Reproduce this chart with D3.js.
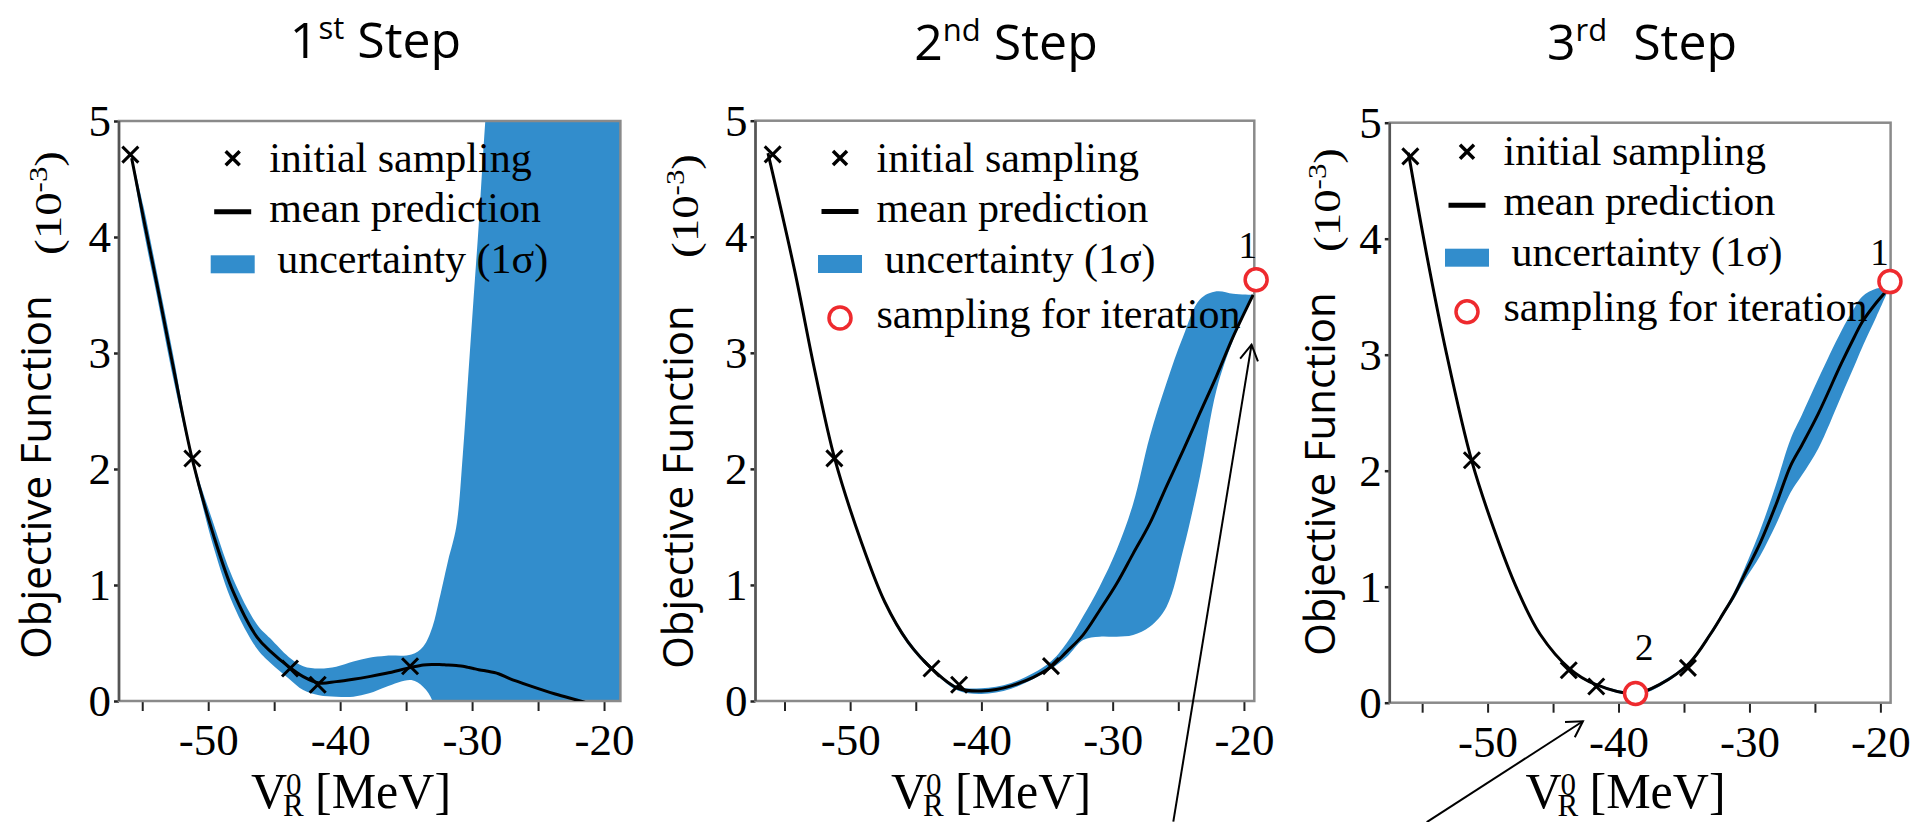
<!DOCTYPE html>
<html>
<head>
<meta charset="utf-8">
<script src="https://cdn.jsdelivr.net/npm/d3@7"></script>
<style>
  html, body { margin: 0; padding: 0; background: #fff; }
  svg { display: block; }
  text { white-space: pre; }
</style>
</head>
<body>
<div class="chart"></div>
<script>
// initial sampling points, same five in every step
const sampleX = [-55.9, -51.2, -43.8, -41.7, -34.7];
const sampleY = [4.71, 2.09, 0.28, 0.14, 0.30];

// 1st step: mean prediction and 1 sigma band
const step1X    = [-55.8, -54.9, -53.9, -52.65, -51.2, -49.6, -48.1, -46.3, -45.3, -43.9, -42.8, -41.6, -40.3, -39.0, -37.8, -36.5, -34.6, -33.7, -33.0, -32.5, -32.1, -31.8, -31.2, -30.7, -30.3, -29.9, -29.5, -29.0, -28.0, -27.2, -25.6, -23.7, -21.8, -18.75];
const step1Mean = [4.68, 4.16, 3.60, 2.88, 2.08, 1.43, 0.94, 0.55, 0.43, 0.296, 0.21, 0.155, 0.167, 0.187, 0.21, 0.239, 0.29, 0.31, 0.315, 0.315, 0.312, 0.31, 0.305, 0.30, 0.29, 0.28, 0.27, 0.26, 0.235, 0.195, 0.13, 0.06, 0.0, -0.1];
const step1Hi   = [4.70, 4.26, 3.70, 2.98, 2.11, 1.53, 1.05, 0.66, 0.54, 0.38, 0.30, 0.28, 0.296, 0.34, 0.373, 0.39, 0.40, 0.47, 0.64, 0.87, 1.07, 1.22, 1.50, 2.13, 2.79, 3.45, 4.10, 5.0, 6.5, 7.5, 9.0, 10, 10, 10];
const step1Lo   = [4.66, 4.06, 3.50, 2.78, 2.05, 1.33, 0.83, 0.45, 0.33, 0.195, 0.095, 0.05, 0.037, 0.037, 0.066, 0.123, 0.18, 0.12, 0.0, -0.3, -0.6, -1, -1, -1, -1, -1, -1, -1, -1, -1, -1, -1, -1, -1];

// 2nd step
const step2X    = [-56.26, -54.23, -52.7, -51.18, -49.15, -47.37, -45.6, -43.6, -41.8, -40.0, -37.73, -34.87, -33.5, -32.25, -31.0, -29.7, -28.44, -27.17, -25.9, -24.63, -23.36, -22.09, -20.82, -19.3];
const step2Mean = [4.72, 3.71, 2.85, 2.09, 1.37, 0.855, 0.51, 0.26, 0.11, 0.086, 0.13, 0.28, 0.425, 0.57, 0.78, 1.01, 1.27, 1.53, 1.85, 2.16, 2.48, 2.80, 3.14, 3.5];
const step2Hi   = [4.73, 3.73, 2.87, 2.10, 1.39, 0.875, 0.53, 0.275, 0.125, 0.11, 0.155, 0.325, 0.50, 0.73, 0.985, 1.30, 1.70, 2.28, 2.74, 3.14, 3.46, 3.53, 3.51, 3.5];
const step2Lo   = [4.71, 3.69, 2.83, 2.08, 1.35, 0.835, 0.49, 0.245, 0.09, 0.06, 0.105, 0.265, 0.38, 0.526, 0.554, 0.554, 0.569, 0.64, 0.81, 1.30, 1.93, 2.68, 3.11, 3.49];

// 3rd step
const step3X    = [-56.05, -54.65, -53.12, -51.2, -49.56, -47.77, -45.99, -43.7, -41.8, -38.7, -36.81, -34.6, -32.99, -32.0, -31.2, -30.4, -29.17, -28.0, -26.87, -26.0, -24.75, -23.0, -22.0, -21.4, -20.3, -19.3];
const step3Mean = [4.74, 3.86, 3.0, 2.08, 1.51, 0.985, 0.59, 0.29, 0.16, 0.08, 0.16, 0.34, 0.59, 0.77, 0.92, 1.10, 1.38, 1.70, 2.04, 2.22, 2.49, 2.92, 3.15, 3.28, 3.45, 3.58];
const step3Hi   = [4.75, 3.87, 3.01, 2.09, 1.52, 0.995, 0.60, 0.30, 0.17, 0.095, 0.175, 0.355, 0.61, 0.79, 0.95, 1.15, 1.49, 1.87, 2.27, 2.48, 2.79, 3.20, 3.40, 3.50, 3.57, 3.58];
const step3Lo   = [4.73, 3.85, 2.99, 2.07, 1.50, 0.975, 0.58, 0.28, 0.15, 0.065, 0.145, 0.325, 0.57, 0.75, 0.89, 1.05, 1.27, 1.53, 1.81, 1.96, 2.19, 2.64, 2.90, 3.06, 3.33, 3.58];

// sampling for iteration (red circles) and their number labels
const iter2X = [-19.07];
const iter2Y = [3.63];
const iter2Name = ["1"];
const iter2LabelX = [-19.7];
const iter2LabelY = [3.82];
const iter3X = [-19.27, -38.7];
const iter3Y = [3.63, 0.08];
const iter3Name = ["1", "2"];
const iter3LabelX = [-20.07, -38.03];
const iter3LabelY = [3.77, 0.37];

// annotation arrows, [x, y] in data units of their panel
const arrow2From = [-25.38, -1.04];
const arrow2To = [-19.42, 3.07];
const arrow3From = [-54.65, -1.03];
const arrow3To = [-42.72, -0.16];

const titles = [["1", "st", " Step"], ["2", "nd", " Step"], ["3", "rd", "  Step"]];
const xTicks = [-55, -50, -45, -40, -35, -30, -25, -20];
const yTicks = [0, 1, 2, 3, 4, 5];
const legendNames = ["initial sampling", "mean prediction", "uncertainty (1\u03c3)", "sampling for iteration"];

const blue = "#328dcc";
const red = "#ee2a2e";
const serif = "'Liberation Serif','Times New Roman',Times,serif";
const sans = "'Open Sans','Noto Sans',sans-serif";

const steps = [
    { xs: step1X, mean: step1Mean, hi: step1Hi, lo: step1Lo, iter: [], arrow: null,
      left: 119, right: 620.4, top: 121, bottom: 701, dom: [-56.76, -18.76],
      titleX: 375.5, titleY: 58, ylabX: 51, ylabY: 477, expX: 61, expY: 203,
      legX: 232.7, legY: 158.3, xlabX: 251 },
    { xs: step2X, mean: step2Mean, hi: step2Hi, lo: step2Lo,
      iter: iter2X.map((v, i) => ({ x: v, y: iter2Y[i], name: iter2Name[i], lx: iter2LabelX[i], ly: iter2LabelY[i] })),
      arrow: [arrow2From, arrow2To],
      left: 755.5, right: 1254.3, top: 120.7, bottom: 701, dom: [-57.21, -19.21],
      titleX: 1006, titleY: 60, ylabX: 693, ylabY: 487, expX: 698, expY: 206,
      legX: 840, legY: 158, xlabX: 891 },
    { xs: step3X, mean: step3Mean, hi: step3Hi, lo: step3Lo,
      iter: iter3X.map((v, i) => ({ x: v, y: iter3Y[i], name: iter3Name[i], lx: iter3LabelX[i], ly: iter3LabelY[i] })),
      arrow: [arrow3From, arrow3To],
      left: 1389.8, right: 1890.6, top: 122.7, bottom: 702.7, dom: [-57.47, -19.22],
      titleX: 1642, titleY: 60, ylabX: 1335, ylabY: 474, expX: 1340, expY: 200,
      legX: 1467, legY: 151.7, xlabX: 1525.5 }
];

const svg = d3.select(".chart")
    .append("svg")
    .attr("width", 1911)
    .attr("height", 822);

const defs = svg.append("defs");
defs.append("marker")
    .attr("id", "head")
    .attr("markerUnits", "userSpaceOnUse")
    .attr("viewBox", "-20 -12 24 24")
    .attr("markerWidth", 24)
    .attr("markerHeight", 24)
    .attr("refX", 0)
    .attr("refY", 0)
    .attr("orient", "auto")
    .append("path")
    .attr("d", "M-15.5,-9L0,0L-15.5,9")
    .attr("fill", "none")
    .attr("stroke", "#000")
    .attr("stroke-width", 2);

function cross(s) {
    return `M${-s},${-s}L${s},${s}M${-s},${s}L${s},${-s}`;
}

const smooth = d3.curveCatmullRom.alpha(0.5);

function drawStep(s, idx) {
    const x = d3.scaleLinear().domain(s.dom).range([s.left, s.right]);
    const y = d3.scaleLinear().domain([0, 5]).range([s.bottom, s.top]);
    const g = svg.append("g");

    defs.append("clipPath").attr("id", "clip" + idx)
        .append("rect")
        .attr("x", s.left).attr("y", s.top)
        .attr("width", s.right - s.left).attr("height", s.bottom - s.top);

    // title with superscript
    const t = g.append("text")
        .attr("x", s.titleX).attr("y", s.titleY)
        .attr("text-anchor", "middle")
        .style("font-family", sans).style("font-size", "50px");
    t.append("tspan").text(titles[idx][0]);
    t.append("tspan").attr("dy", -19).style("font-size", "31px").text(titles[idx][1]);
    t.append("tspan").attr("dy", 19).text(titles[idx][2]);

    const pts = s.xs.map((v, i) => ({ x: v, m: s.mean[i], lo: s.lo[i], hi: s.hi[i] }));

    // uncertainty band
    g.append("path")
        .datum(pts)
        .attr("clip-path", `url(#clip${idx})`)
        .attr("fill", blue)
        .attr("d", d3.area()
            .curve(smooth)
            .x(d => x(d.x))
            .y0(d => y(d.lo))
            .y1(d => y(d.hi)));

    // axes
    const xAxis = g.append("g")
        .attr("transform", `translate(0,${s.bottom})`)
        .call(d3.axisBottom(x).tickValues(xTicks).tickSize(10).tickPadding(12)
            .tickFormat(d => d % 10 === 0 ? String(d) : ""));
    xAxis.select(".domain").remove();
    xAxis.selectAll("line").attr("stroke", "#222").attr("stroke-width", 2);
    xAxis.selectAll("text").attr("fill", "#000")
        .style("font-family", serif).style("font-size", "45px");

    const yAxis = g.append("g")
        .attr("transform", `translate(${s.left},0)`)
        .call(d3.axisLeft(y).tickValues(yTicks).tickSize(5).tickPadding(3)
            .tickFormat(d => String(d)));
    yAxis.select(".domain").remove();
    yAxis.selectAll("line").attr("stroke", "#222").attr("stroke-width", 2.5);
    yAxis.selectAll("text").attr("fill", "#000").attr("dy", "0.33em")
        .style("font-family", serif).style("font-size", "45px");

    // frame
    g.append("rect")
        .attr("x", s.left).attr("y", s.top)
        .attr("width", s.right - s.left).attr("height", s.bottom - s.top)
        .attr("fill", "none").attr("stroke", "#8a8a8a").attr("stroke-width", 2.5);
    g.append("line")
        .attr("x1", s.left).attr("x2", s.left).attr("y1", s.top).attr("y2", s.bottom)
        .attr("stroke", "#555").attr("stroke-width", 2.5);

    // mean prediction
    g.append("path")
        .datum(pts)
        .attr("clip-path", `url(#clip${idx})`)
        .attr("fill", "none")
        .attr("stroke", "#000")
        .attr("stroke-width", 3)
        .attr("d", d3.line().curve(smooth).x(d => x(d.x)).y(d => y(d.m)));

    // initial sampling crosses
    g.selectAll("path.sample")
        .data(sampleX.map((v, i) => ({ x: v, y: sampleY[i] })))
        .enter()
        .append("path")
        .attr("class", "sample")
        .attr("transform", d => `translate(${x(d.x)},${y(d.y)})`)
        .attr("d", cross(8))
        .attr("stroke", "#000")
        .attr("stroke-width", 3);

    // sampling for iteration
    g.selectAll("circle.iter")
        .data(s.iter)
        .enter()
        .append("circle")
        .attr("class", "iter")
        .attr("cx", d => x(d.x)).attr("cy", d => y(d.y))
        .attr("r", 11)
        .attr("fill", "#fff")
        .attr("stroke", red)
        .attr("stroke-width", 3.5);
    g.selectAll("text.iterlab")
        .data(s.iter)
        .enter()
        .append("text")
        .attr("class", "iterlab")
        .attr("x", d => x(d.lx)).attr("y", d => y(d.ly))
        .attr("text-anchor", "middle")
        .style("font-family", serif).style("font-size", "37px")
        .text(d => d.name);

    // legend
    const leg = g.append("g").attr("transform", `translate(${s.legX},${s.legY})`);
    leg.append("path").attr("d", cross(7)).attr("stroke", "#000").attr("stroke-width", 3.5);
    leg.append("line").attr("x1", -18.5).attr("x2", 18.5).attr("y1", 53.5).attr("y2", 53.5)
        .attr("stroke", "#000").attr("stroke-width", 5);
    leg.append("rect").attr("x", -22).attr("y", 97).attr("width", 44).attr("height", 18).attr("fill", blue);
    const rows = s.iter.length ? 4 : 3;
    if (rows === 4) {
        leg.append("circle").attr("cx", 0).attr("cy", 160).attr("r", 11)
            .attr("fill", "none").attr("stroke", red).attr("stroke-width", 3.5);
    }
    const baselines = [13.5, 63.5, 114.5, 169.5];
    leg.selectAll("text")
        .data(legendNames.slice(0, rows))
        .enter()
        .append("text")
        .attr("x", (d, i) => i === 2 ? 44.5 : 36.5)
        .attr("y", (d, i) => baselines[i])
        .style("font-family", serif).style("font-size", "42px")
        .text(d => d);

    // y label
    g.append("text")
        .attr("transform", `translate(${s.ylabX},${s.ylabY}) rotate(-90)`)
        .attr("text-anchor", "middle")
        .style("font-family", sans).style("font-size", "42px")
        .text("Objective Function");
    const e = g.append("text")
        .attr("transform", `translate(${s.expX},${s.expY}) rotate(-90)`)
        .attr("text-anchor", "middle")
        .attr("textLength", 104)
        .attr("lengthAdjust", "spacingAndGlyphs")
        .style("font-family", serif).style("font-size", "38px");
    e.append("tspan").text("(10");
    e.append("tspan").attr("dy", -14).style("font-size", "25px").text("-3");
    e.append("tspan").attr("dy", 14).text(")");

    // x label  V_R^0 [MeV], superscript 0 stacked over subscript R
    const xl = g.append("text")
        .attr("x", s.xlabX).attr("y", 808)
        .style("font-family", serif).style("font-size", "50px");
    xl.append("tspan").text("V");
    xl.append("tspan").attr("x", s.xlabX + 35).attr("dy", -13).style("font-size", "31px").text("0");
    xl.append("tspan").attr("x", s.xlabX + 32).attr("dy", 21).style("font-size", "31px").text("R");
    xl.append("tspan").attr("x", s.xlabX + 64).attr("dy", -8).text("[MeV]");

    // arrow
    if (s.arrow) {
        g.append("line")
            .attr("x1", x(s.arrow[0][0])).attr("y1", y(s.arrow[0][1]))
            .attr("x2", x(s.arrow[1][0])).attr("y2", y(s.arrow[1][1]))
            .attr("stroke", "#000").attr("stroke-width", 2)
            .attr("marker-end", "url(#head)");
    }
}

steps.forEach(drawStep);
</script>
</body>
</html>
